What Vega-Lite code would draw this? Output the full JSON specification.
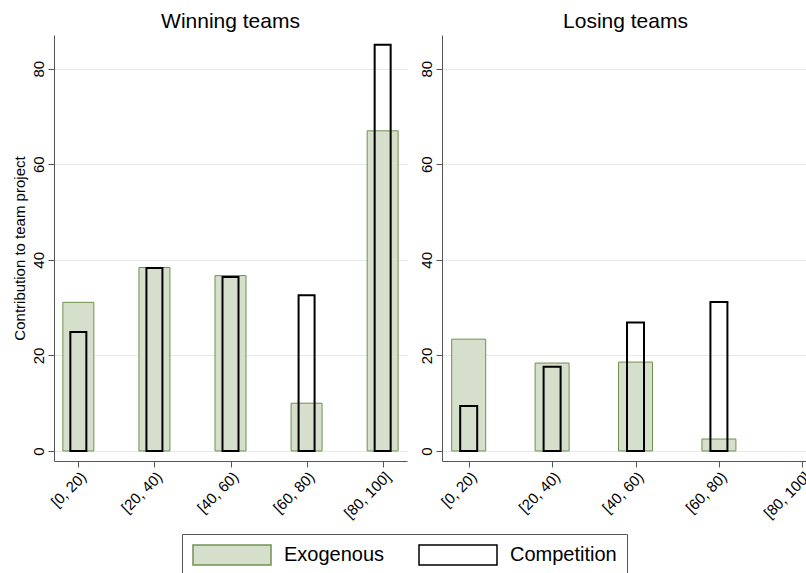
{
  "$schema": "https://vega.github.io/schema/vega-lite/v6.json",
  "background": "white",
  "padding": {"left": 12, "top": 11, "right": 0, "bottom": 0},
  "config": {
    "font": "Liberation Sans",
    "view": {"stroke": null},
    "concat": {"spacing": 12},
    "axis": {
      "domainColor": "#555555",
      "tickColor": "#555555",
      "tickSize": 6,
      "labelColor": "#000000",
      "titleColor": "#000000",
      "gridColor": "#e8e8e8",
      "labelFontSize": 15,
      "titleFontSize": 15,
      "titleFontWeight": "normal"
    },
    "title": {"fontSize": 21, "fontWeight": "normal", "color": "#000000", "anchor": "middle", "offset": -14}
  },
  "datasets": {
    "d": [
      {"panel": "Winning", "bin": "[0, 20)", "series": "Exogenous", "value": 31.1},
      {"panel": "Winning", "bin": "[20, 40)", "series": "Exogenous", "value": 38.4},
      {"panel": "Winning", "bin": "[40, 60)", "series": "Exogenous", "value": 36.7},
      {"panel": "Winning", "bin": "[60, 80)", "series": "Exogenous", "value": 10.0},
      {"panel": "Winning", "bin": "[80, 100]", "series": "Exogenous", "value": 67.0},
      {"panel": "Winning", "bin": "[0, 20)", "series": "Competition", "value": 24.9},
      {"panel": "Winning", "bin": "[20, 40)", "series": "Competition", "value": 38.3},
      {"panel": "Winning", "bin": "[40, 60)", "series": "Competition", "value": 36.4},
      {"panel": "Winning", "bin": "[60, 80)", "series": "Competition", "value": 32.6},
      {"panel": "Winning", "bin": "[80, 100]", "series": "Competition", "value": 85.0},
      {"panel": "Losing", "bin": "[0, 20)", "series": "Exogenous", "value": 23.4},
      {"panel": "Losing", "bin": "[20, 40)", "series": "Exogenous", "value": 18.4},
      {"panel": "Losing", "bin": "[40, 60)", "series": "Exogenous", "value": 18.6},
      {"panel": "Losing", "bin": "[60, 80)", "series": "Exogenous", "value": 2.5},
      {"panel": "Losing", "bin": "[0, 20)", "series": "Competition", "value": 9.4},
      {"panel": "Losing", "bin": "[20, 40)", "series": "Competition", "value": 17.6},
      {"panel": "Losing", "bin": "[40, 60)", "series": "Competition", "value": 26.9},
      {"panel": "Losing", "bin": "[60, 80)", "series": "Competition", "value": 31.2}
    ]
  },
  "data": {"name": "d"},
  "resolve": {"scale": {"x": "independent"}},
  "hconcat": [
    {
      "width": 353,
      "height": 426,
      "title": {"text": "Winning teams", "baseline": "alphabetic"},
      "transform": [{"filter": "datum.panel === 'Winning'"}],
      "encoding": {
        "x": {
          "field": "bin", "type": "ordinal",
          "scale": {"type": "point", "domain": ["[0, 20)", "[20, 40)", "[40, 60)", "[60, 80)", "[80, 100]"], "padding": 0.32},
          "axis": {"title": null, "labelAngle": -45, "grid": false, "labelPadding": 2}
        },
        "y": {
          "field": "value", "type": "quantitative",
          "scale": {"domain": [-2.1, 87.05], "nice": false, "zero": false},
          "axis": {"title": "Contribution to team project", "values": [0, 20, 40, 60, 80], "labelAngle": -90, "labelAlign": "center", "labelBaseline": "bottom", "labelPadding": 2, "titlePadding": 4, "grid": true}
        },
        "y2": {"datum": 0},
        "fill": {
          "field": "series", "type": "nominal",
          "scale": {"domain": ["Exogenous", "Competition"], "range": ["#d6dfcc", "transparent"]},
          "legend": {"orient": "none", "legendX": 128, "legendY": 499, "direction": "horizontal", "title": null,
            "symbolType": "M-1,-1H6.8V1H-1Z", "symbolSize": 400, "symbolStrokeWidth": 1.5,
            "labelFontSize": 20, "labelOffset": 70, "columnPadding": 31, "padding": 10,
            "strokeColor": "#555555", "fillColor": "white"}
        },
        "stroke": {
          "field": "series", "type": "nominal",
          "scale": {"domain": ["Exogenous", "Competition"], "range": ["#6f9150", "#000000"]},
          "legend": {"orient": "none", "legendX": 128, "legendY": 499, "direction": "horizontal", "title": null,
            "symbolType": "M-1,-1H6.8V1H-1Z", "symbolSize": 400, "symbolStrokeWidth": 1.5,
            "labelFontSize": 20, "labelOffset": 70, "columnPadding": 31, "padding": 10,
            "strokeColor": "#555555", "fillColor": "white"}
        }
      },
      "layer": [
        {"transform": [{"filter": "datum.series === 'Exogenous'"}], "mark": {"type": "bar", "width": 31, "strokeWidth": 1}},
        {"transform": [{"filter": "datum.series === 'Competition'"}], "mark": {"type": "bar", "width": 16, "strokeWidth": 2}}
      ]
    },
    {
      "width": 367,
      "height": 426,
      "title": {"text": "Losing teams", "baseline": "alphabetic"},
      "transform": [{"filter": "datum.panel === 'Losing'"}],
      "encoding": {
        "x": {
          "field": "bin", "type": "ordinal",
          "scale": {"type": "point", "domain": ["[0, 20)", "[20, 40)", "[40, 60)", "[60, 80)", "[80, 100]"], "padding": 0.2, "align": 0.8},
          "axis": {"title": null, "labelAngle": -45, "grid": false, "labelPadding": 2}
        },
        "y": {
          "field": "value", "type": "quantitative",
          "scale": {"domain": [-2.1, 87.05], "nice": false, "zero": false},
          "axis": {"title": null, "values": [0, 20, 40, 60, 80], "labelAngle": -90, "labelAlign": "center", "labelBaseline": "bottom", "labelPadding": 2, "grid": true}
        },
        "y2": {"datum": 0},
        "fill": {"field": "series", "type": "nominal"},
        "stroke": {"field": "series", "type": "nominal"}
      },
      "layer": [
        {"transform": [{"filter": "datum.series === 'Exogenous'"}], "mark": {"type": "bar", "width": 34, "strokeWidth": 1}},
        {"transform": [{"filter": "datum.series === 'Competition'"}], "mark": {"type": "bar", "width": 17, "strokeWidth": 2}}
      ]
    }
  ]
}
